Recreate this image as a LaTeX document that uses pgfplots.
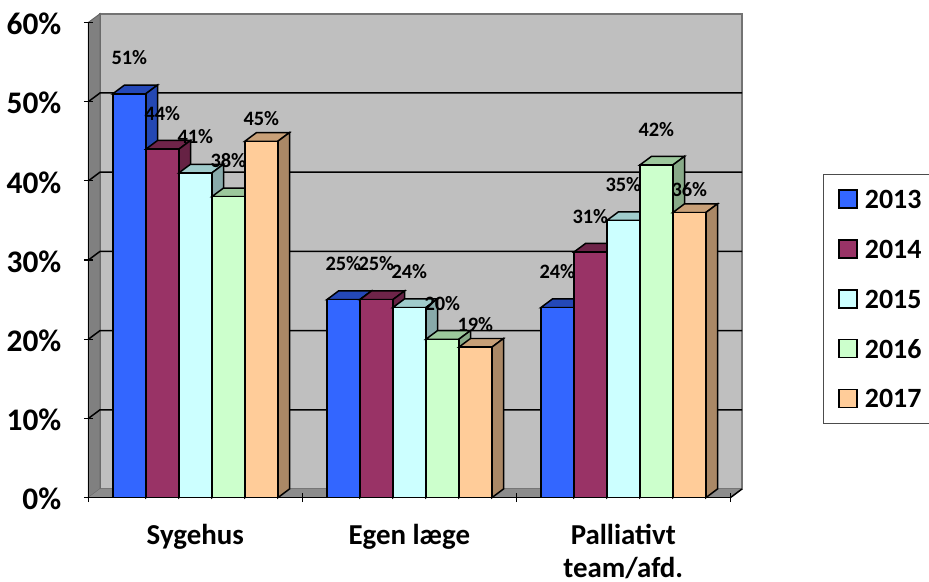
\documentclass[border=0pt]{standalone}
\usepackage{fontspec}
\setmainfont{Carlito}
\usepackage{pgfplots}
\pgfplotsset{compat=1.18}
\definecolor{cA}{HTML}{3366FF}\definecolor{cB}{HTML}{993366}\definecolor{cC}{HTML}{CCFFFF}\definecolor{cD}{HTML}{CCFFCC}\definecolor{cE}{HTML}{FFCC99}
\definecolor{tA}{HTML}{2448B8}\definecolor{tB}{HTML}{6E2449}\definecolor{tC}{HTML}{A0CCCC}\definecolor{tD}{HTML}{9CC89C}\definecolor{tE}{HTML}{C8A078}
\definecolor{sA}{HTML}{2448B3}\definecolor{sB}{HTML}{662244}\definecolor{sC}{HTML}{88AAAA}\definecolor{sD}{HTML}{88AA88}\definecolor{sE}{HTML}{AA8866}
\def\dxx{0.0547}\def\dyy{1.1}
\newcommand\barpiece[5]{%
 \pgfmathsetmacro\xl{#2+(#1-2)*0.1542-0.0771}%
 \pgfmathsetmacro\xr{\xl+0.1542}%
 \pgfmathsetmacro\xlb{\xl+\dxx}%
 \pgfmathsetmacro\xrb{\xr+\dxx}%
 \pgfmathsetmacro\vb{#3+\dyy}%
 \addplot[fill=#4,draw=black,line width=1.5pt,forget plot] coordinates {(\xl,#3) (\xlb,\vb) (\xrb,\vb) (\xr,#3)} --cycle;
 \addplot[fill=#5,draw=black,line width=1.5pt,forget plot] coordinates {(\xr,0) (\xrb,\dyy) (\xrb,\vb) (\xr,#3)} --cycle;
}
\newcommand\series[9]{%
 \barpiece{#1}{0}{#5}{#3}{#4}\barpiece{#1}{1}{#6}{#3}{#4}\barpiece{#1}{2}{#7}{#3}{#4}%
 \addplot[ybar,bar width=33bp,bar shift={(#1-2)*33bp},fill=#2,draw=black,line width=1.5pt,
   nodes near coords={\pgfmathprintnumber[assume math mode=true]{\pgfplotspointmeta}\%},
   every node near coord/.style={anchor=center,xshift={(#1-2)*33bp},yshift=#8,font=\fontsize{20.5}{20.5}\bfseries,text=black,inner sep=0pt}]
   coordinates {(0,#5) (1,#6) (2,#7)};
 \addlegendentry{#9}
}
\newcommand\gridl[1]{%
 \pgfmathsetmacro\vb{#1+\dyy}%
 \pgfmathsetmacro\xa{-0.5+\dxx}\pgfmathsetmacro\xe{2.5+\dxx}%
 \addplot[black,line width=1.5pt,forget plot] coordinates {(-0.5,#1) (\xa,\vb) (\xe,\vb)};
}
\begin{document}
\begin{tikzpicture}[x=1bp,y=1bp]
\path[use as bounding box] (0,0) rectangle (929,582);
\begin{axis}[
  at={(88.3bp,84.3bp)},anchor=south west,
  scale only axis,width=642bp,height=475.2bp,
  clip=false,axis on top=true,
  xmin=-0.5,xmax=2.5,ymin=0,ymax=60,
  axis x line=bottom,axis y line=left,
  axis line style={-,black,line width=1.4pt},
  every tick/.style={black,line width=1.2pt},
  xtick={0,1,2},xticklabels={Sygehus,Egen læge,{Palliativt\\team/afd.}},
  minor xtick={-0.5,0.5,1.5,2.5},
  major x tick style={draw=none},
  minor tick length=9bp,
  xticklabel style={align=center,inner sep=0pt,font=\fontsize{29}{33}\bfseries,yshift=-21.5bp},
  ytick={0,10,20,30,40,50,60},yticklabels={0\%,10\%,20\%,30\%,40\%,50\%,60\%},
  major tick length=9bp,
  yticklabel style={font=\fontsize{31.5}{32}\bfseries,xshift=-19bp,yshift=-1.5bp},
  legend cell align=left,
  legend style={at={(axis description cs:1.1444,0.681)},anchor=north west,draw=black!70,line width=0.8pt,
    row sep=30.3bp,inner xsep=15bp,inner ysep=15bp,font=\fontsize{28}{28}\bfseries,
    nodes={inner sep=0pt,anchor=west,text height=19bp,text depth=0pt,text width=90bp}},
  legend image code/.code={\draw[#1,line width=1.5pt] (0bp,-9bp) rectangle (18bp,9bp);\path (25bp,0bp);},
]
\addplot[fill=black!25,draw=black!55,line width=1.5pt,forget plot] coordinates {(-0.4453,1.1) (-0.4453,61.1) (2.5547,61.1) (2.5547,1.1)} --cycle;
\addplot[fill=black!50,draw=black!60,line width=1pt,forget plot] coordinates {(-0.5,0) (-0.4453,1.1) (-0.4453,61.1) (-0.5,60)} --cycle;
\addplot[fill=black!45,draw=none,forget plot] coordinates {(-0.5,0) (-0.4453,1.1) (2.5547,1.1) (2.5,0)} --cycle;
\addplot[black,line width=1.5pt,forget plot] coordinates {(2.5,0) (2.5547,1.1)};
\gridl{10}\gridl{20}\gridl{30}\gridl{40}\gridl{50}
\series{0}{cA}{tA}{sA}{51}{25}{24}{36bp}{2013}
\series{1}{cB}{tB}{sB}{44}{25}{31}{36bp}{2014}
\series{2}{cC}{tC}{sC}{41}{24}{35}{36bp}{2015}
\series{3}{cD}{tD}{sD}{38}{20}{42}{36bp}{2016}
\series{4}{cE}{tE}{sE}{45}{19}{36}{23bp}{2017}
\end{axis}
\end{tikzpicture}
\end{document}
